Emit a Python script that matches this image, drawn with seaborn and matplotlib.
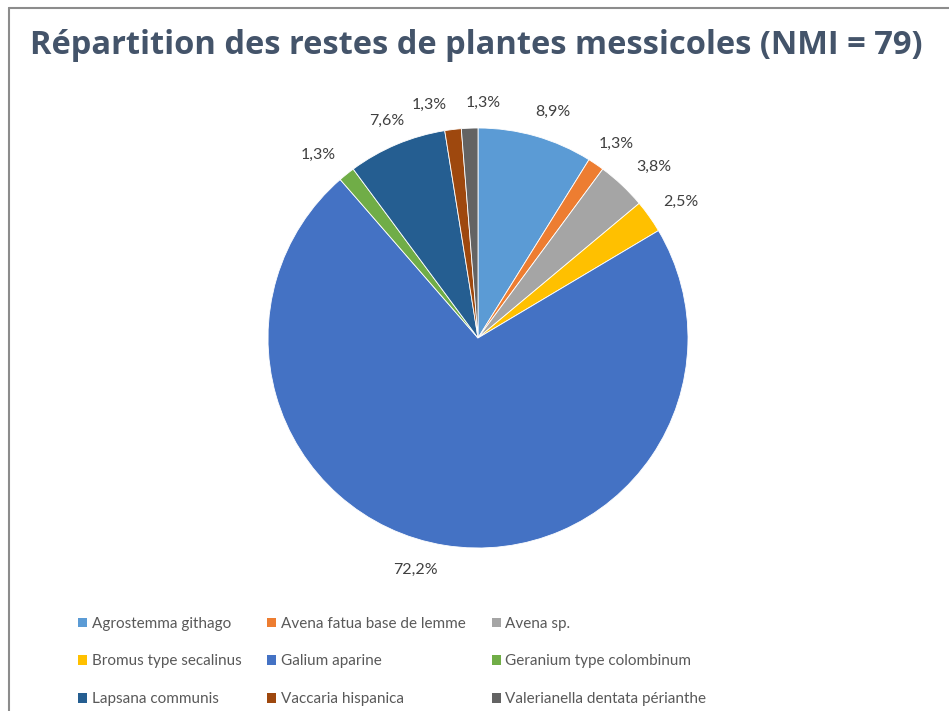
import matplotlib
matplotlib.use("Agg")
import matplotlib.pyplot as plt
from matplotlib.lines import Line2D
from matplotlib.patches import Patch
import seaborn as sns

categories = ["Agrostemma githago", "Avena fatua base de lemme", "Avena sp.",
              "Bromus type secalinus", "Galium aparine", "Geranium type colombinum",
              "Lapsana communis", "Vaccaria hispanica", "Valerianella dentata périanthe"]
counts = [7, 1, 3, 2, 57, 1, 6, 1, 1]
colors = ["#5B9BD5", "#ED7D31", "#A5A5A5", "#FFC000", "#4472C4", "#70AD47",
          "#255E91", "#9E480E", "#636363"]
title = "Répartition des restes de plantes messicoles (NMI = 79)"

sns.set_theme(style="white")
plt.rcParams['font.family'] = ['Lato', 'DejaVu Sans']

W, H = 949, 711
fig = plt.figure(figsize=(W / 100, H / 100), dpi=100)
cx, cy, r = 478, 338, 210
ax = fig.add_axes([(cx - r) / W, (H - cy - r) / H, 2 * r / W, 2 * r / H])

wedges, _, autotexts = ax.pie(
    counts, colors=colors, startangle=90, counterclock=False,
    autopct=lambda p: f"{p:.1f}%".replace(".", ","), pctdistance=1.12,
    wedgeprops=dict(linewidth=0.6, edgecolor="white"),
    textprops=dict(color="#404040", fontsize=11.5, family=['Lato', 'DejaVu Sans']))
# nudge crowded labels apart (text only)
nudges = {0: (0.05, 0.0), 1: (0.03, 0.0), 2: (0.07, 0.0), 3: (0.05, 0.0),
          4: (-0.12, 0.0), 5: (-0.06, 0.0), 7: (-0.1, 0.0), 8: (0.07, 0.0)}
for i, (dx, dy) in nudges.items():
    x, y = autotexts[i].get_position()
    autotexts[i].set_position((x + dx, y + dy))
ax.set_xlim(-1, 1)
ax.set_ylim(-1, 1)
ax.set_aspect("equal")
ax.axis("off")

fig.text(476 / W, 1 - 46 / H, title, ha="center", va="center",
         fontsize=23.5, fontweight="bold", color="#44546A",
         family=["Open Sans", "DejaVu Sans"])

# legend, row-wise order
order = [0, 3, 6, 1, 4, 7, 2, 5, 8]
handles = [Patch(facecolor=colors[i], edgecolor="none") for i in order]
labels = [categories[i] for i in order]
fig.legend(handles, labels, ncol=3, loc="upper left",
           bbox_to_anchor=(64 / W, 1 - 603 / H), frameon=False,
           prop=dict(family=['Lato', 'DejaVu Sans'], size=11), labelcolor="#595959",
           handlelength=0.6, handleheight=0.6,
           handletextpad=0.3, columnspacing=1.7, labelspacing=1.55)

# frame lines (top and left)
fig.add_artist(Line2D([9 / W, 1], [1 - 8 / H, 1 - 8 / H], color="#8C8C8C", lw=1.5,
                      transform=fig.transFigure))
fig.add_artist(Line2D([9 / W, 9 / W], [0, 1 - 8 / H], color="#8C8C8C", lw=1.5,
                      transform=fig.transFigure))

fig.savefig("out.png", dpi=100, facecolor="white")
